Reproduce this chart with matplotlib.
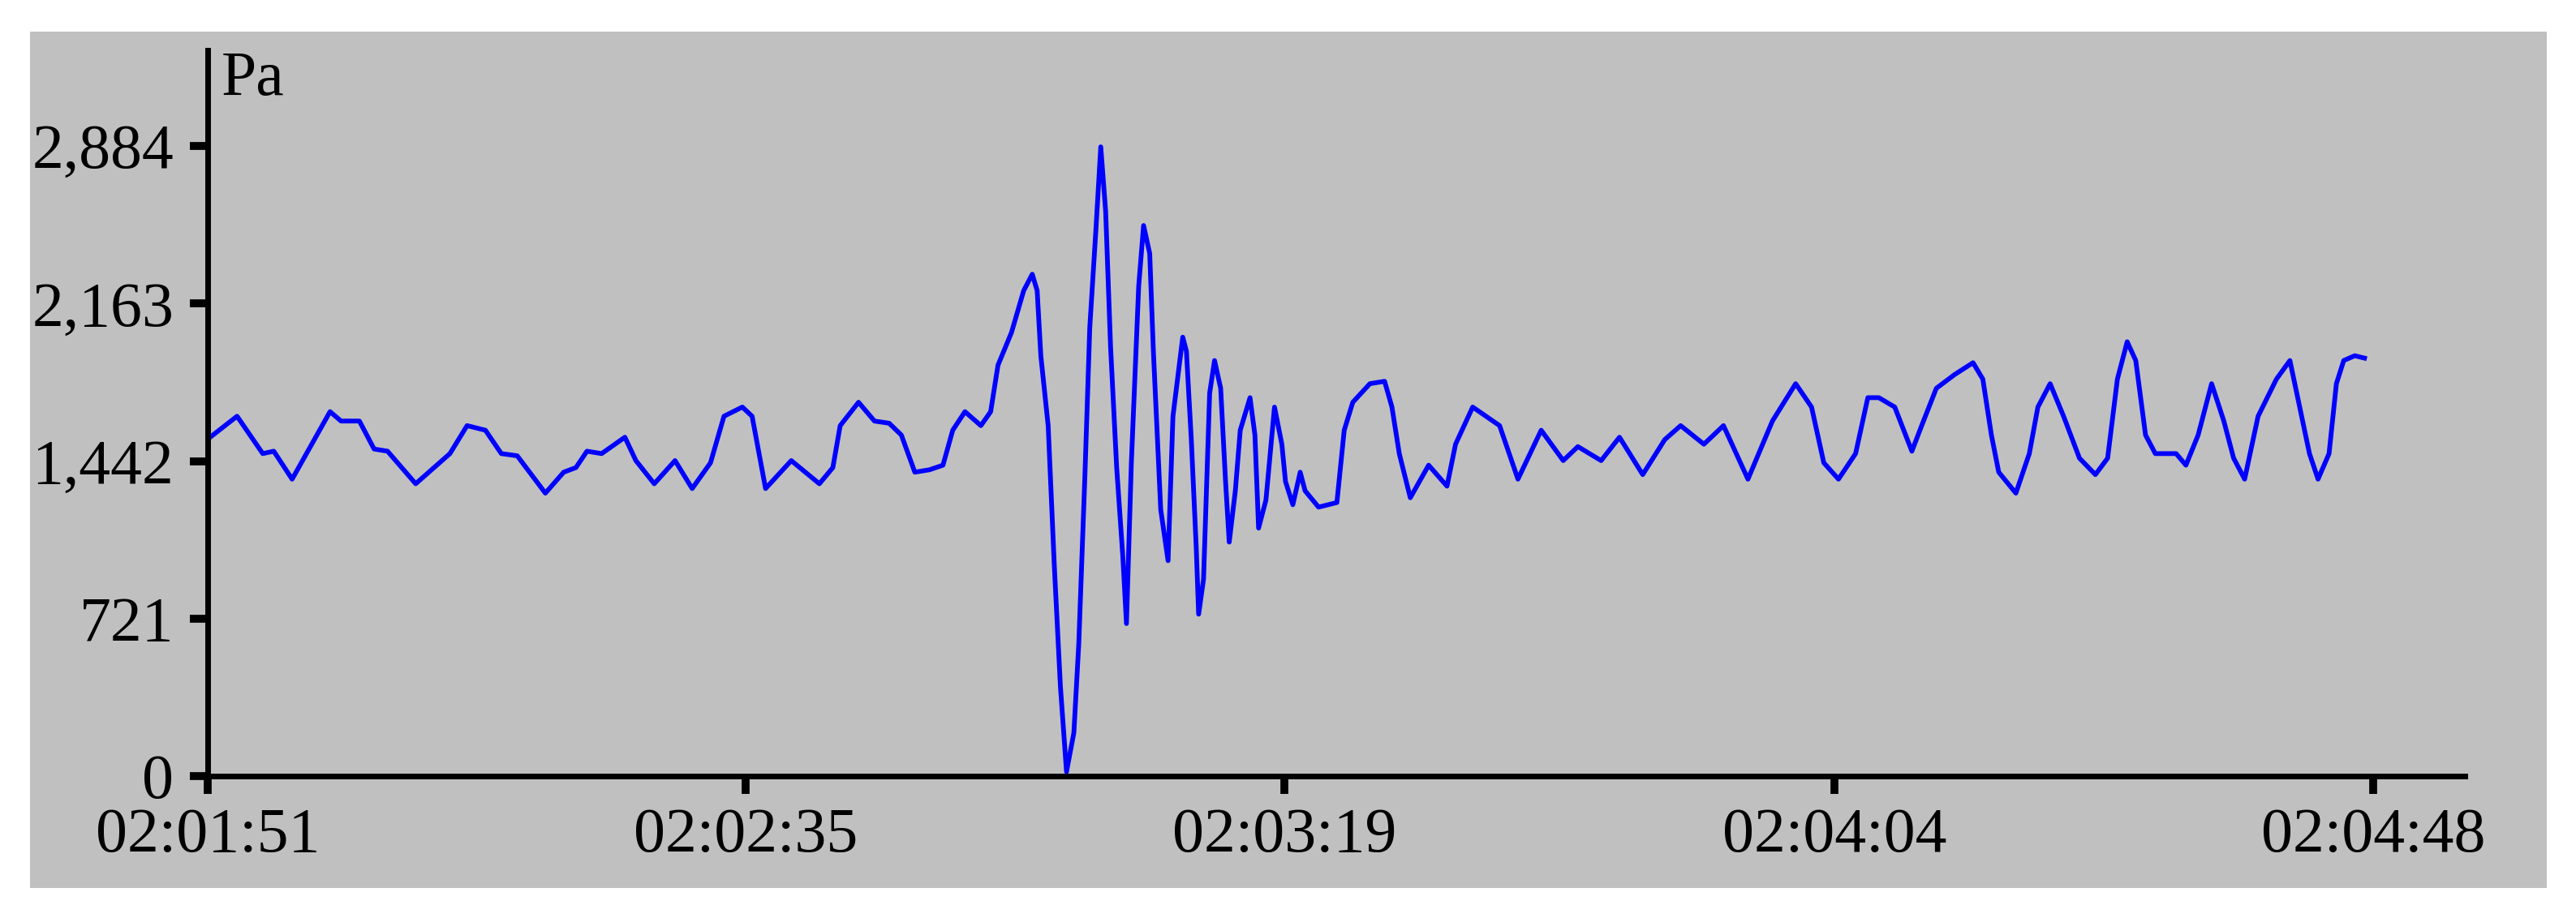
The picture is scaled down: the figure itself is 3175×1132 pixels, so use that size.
import matplotlib
matplotlib.use('Agg')
from matplotlib import pyplot as plt
from matplotlib.patches import Rectangle

# seconds after 02:01:51
seconds = [0.2, 2.4, 4.5, 5.4, 6.9, 10.0, 10.9, 12.4, 13.6, 14.7, 17.0, 19.8,
           21.2, 22.7, 24.0, 25.3, 27.6, 29.1, 30.1, 31.0, 32.2, 34.1, 35.0,
           36.5, 38.2, 39.6, 41.1, 42.2, 43.7, 44.5, 45.6, 47.7, 50.0, 51.1,
           51.7, 53.2, 54.5, 55.7, 56.7, 57.8, 59.0, 60.1, 60.9, 61.9, 63.2,
           64.0, 64.6, 65.7, 66.7, 67.4, 67.8, 68.1, 68.7, 69.2, 69.7, 70.2,
           70.8, 71.2, 71.7, 72.1, 72.6, 73.0, 73.4, 73.8, 74.3, 74.8, 75.1,
           75.5, 76.1, 76.5, 77.0, 77.3, 77.9, 78.5, 78.9, 79.7, 80.0, 80.4,
           80.8, 81.0, 81.4, 81.9, 82.3, 82.8, 83.2, 83.5, 84.0, 84.4, 85.2,
           85.6, 85.9, 86.5, 87.2, 87.8, 88.1, 88.7, 89.3, 89.7, 90.8, 92.3,
           92.9, 93.6, 95.0, 96.2, 96.8, 97.4, 98.3, 99.8, 101.3, 102.0, 103.4,
           105.6, 107.1, 109.0, 110.8, 112.0, 113.9, 115.4, 117.3, 119.1,
           120.4, 122.3, 123.9, 125.9, 127.9, 129.8, 131.1, 132.1, 133.3,
           134.7, 135.7, 136.6, 137.9, 139.3, 140.1, 141.3, 142.8, 144.3,
           145.1, 145.8, 146.4, 147.8, 148.9, 149.6, 150.6, 151.7, 153.0,
           154.3, 155.3, 156.1, 156.9, 157.6, 158.4, 159.2, 160.9, 161.7,
           162.7, 163.8, 164.8, 165.6, 166.5, 167.6, 169.1, 170.2, 171.0,
           171.8, 172.5, 173.4, 174.0, 174.6, 175.5, 176.3]
# pressure in Pa
pressure = [1551, 1647, 1476, 1487, 1359, 1668, 1625, 1625, 1497, 1487, 1338, 1476,
            1604, 1583, 1476, 1466, 1295, 1391, 1412, 1487, 1476, 1551, 1444,
            1338, 1444, 1316, 1434, 1647, 1689, 1647, 1316, 1444, 1338, 1412,
            1604, 1711, 1625, 1615, 1561, 1391, 1402, 1423, 1583, 1668, 1604,
            1668, 1881, 2030, 2222, 2297, 2222, 1924, 1604, 965, 411, 20,
            198, 603, 1370, 2052, 2499, 2880, 2584, 1966, 1412, 1007, 698,
            1434, 2243, 2520, 2392, 1945, 1220, 986, 1647, 2009, 1945, 1540,
            1050, 741, 901, 1753, 1902, 1775, 1348, 1071, 1306, 1583, 1732,
            1561, 1135, 1263, 1689, 1519, 1348, 1242, 1391, 1306, 1231, 1252,
            1583, 1711, 1796, 1807, 1689, 1476, 1274, 1423, 1327, 1519, 1689,
            1604, 1359, 1583, 1444, 1508, 1444, 1551, 1380, 1540,
            1604, 1519, 1604, 1359, 1625, 1796, 1689, 1434, 1359,
            1476, 1732, 1732, 1689, 1487, 1604, 1775, 1838, 1892,
            1817, 1561, 1391, 1295, 1476, 1689, 1796, 1647, 1455,
            1380, 1455, 1817, 1988, 1902, 1561, 1476, 1476, 1423,
            1561, 1796, 1625, 1455, 1359, 1647, 1817, 1902, 1689,
            1476, 1359, 1476, 1796, 1902, 1924, 1913]

y_ticks = [0, 721, 1442, 2163, 2884]
x_ticks = [0, 44, 88, 133, 177]
x_labels = ['02:01:51', '02:02:35', '02:03:19', '02:04:04', '02:04:48']

plt.rcParams['font.family'] = ['Liberation Serif', 'DejaVu Serif']

W, H = 3175, 1132
fig = plt.figure(figsize=(W / 100, H / 100), dpi=100)
fig.add_artist(Rectangle((37 / W, 1 - 1095 / H), (3139 - 37) / W, (1095 - 39) / H,
                         transform=fig.transFigure, facecolor='#c0c0c0',
                         edgecolor='none', zorder=-1))

ax = fig.add_axes([256 / W, 1 - 957 / H, (3038 - 256) / W, (957 - 62) / H])
ax.set_facecolor('none')
ax.plot(seconds, pressure, color='#0000ff', lw=4.2)

ax.set_xlim(0, 184.5)
ax.set_ylim(0, 3322)
for s in ['top', 'right']:
    ax.spines[s].set_visible(False)
for s in ['left', 'bottom']:
    ax.spines[s].set_linewidth(5)
    ax.spines[s].set_color('black')

ax.set_yticks(y_ticks, [f'{v:,}' for v in y_ticks])
ax.set_xticks(x_ticks, x_labels)
ax.tick_params(axis='both', direction='out', width=7, length=16,
               labelsize=56, color='black', labelcolor='black')
ax.tick_params(axis='y', pad=14)
ax.tick_params(axis='x', pad=12)

ax.text(0.006, 1.0, 'Pa', transform=ax.transAxes, va='top', ha='left',
        fontsize=56, color='black')

fig.savefig('out.png', dpi=100, facecolor='white')
